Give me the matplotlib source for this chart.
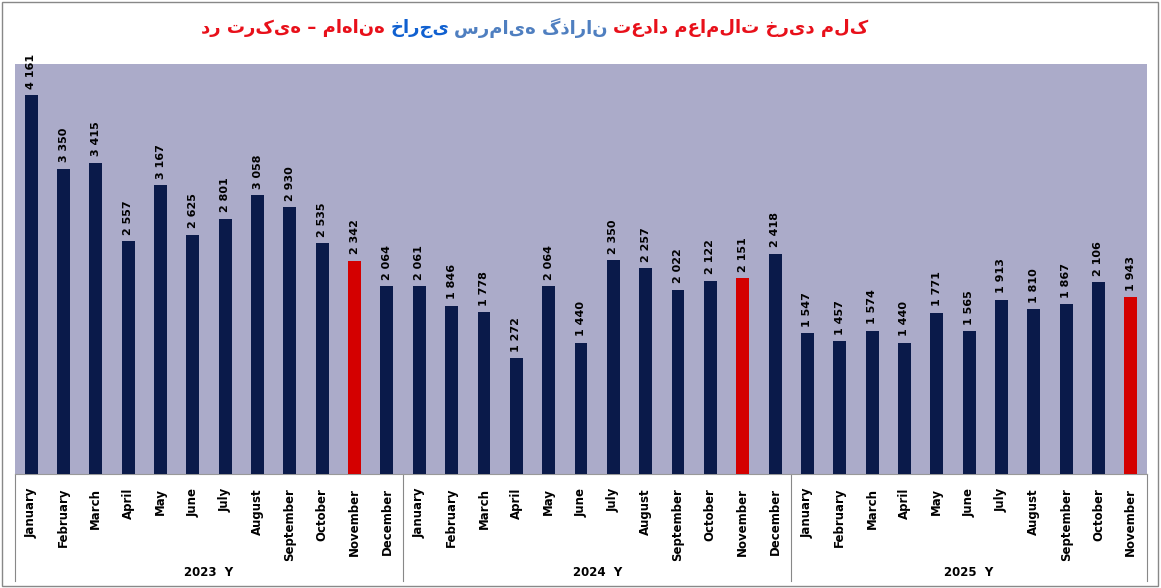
import matplotlib
matplotlib.use("Agg")
import matplotlib.pyplot as plt
from matplotlib.lines import Line2D

months = ["January","February","March","April","May","June","July","August",
          "September","October","November","December"]
years = ["2023  Y", "2024  Y", "2025  Y"]
v2023 = [4161,3350,3415,2557,3167,2625,2801,3058,2930,2535,2342,2064]
v2024 = [2061,1846,1778,1272,2064,1440,2350,2257,2022,2122,2151,2418]
v2025 = [1547,1457,1574,1440,1771,1565,1913,1810,1867,2106,1943]
highlight = "November"

labels = months + months + months[:11]
values = v2023 + v2024 + v2025
groups = [len(v2023), len(v2024), len(v2025)]

fig = plt.figure(figsize=(11.61, 5.88), dpi=100)
ax = fig.add_axes([15/1161, 1-474/588, 1132/1161, 410/588])
ax.set_facecolor("#ABABC9")
x = list(range(len(values)))
colors = ["#D40000" if l == highlight else "#0A1A4A" for l in labels]
ax.bar(x, values, width=0.4, color=colors, zorder=3)
for xi, v in zip(x, values):
    s = f"{v:,}".replace(",", " ")
    ax.text(xi, v + 70, s, rotation=90, ha="center", va="bottom",
            fontsize=8, fontweight="bold", color="black", zorder=4)
ax.set_xlim(-0.5, len(values) - 0.5)
ax.set_ylim(0, 4500)
ax.set_yticks([])
ax.set_xticks(x)
ax.set_xticklabels(labels, rotation=90, fontsize=8.5, fontweight="bold")
ax.tick_params(axis="x", length=0, pad=10)
for s in ["top", "right", "left"]:
    ax.spines[s].set_visible(False)
ax.spines["bottom"].set_color("#999999")

tr = ax.get_xaxis_transform()
start = -0.5
bounds = [start]
for g in groups:
    start += g
    bounds.append(start)
for b in bounds:
    ax.add_line(Line2D([b, b], [0, -0.26], transform=tr, color="#888888",
                       lw=0.8, clip_on=False))
for i, yl in enumerate(years):
    ax.text((bounds[i] + bounds[i+1]) / 2, -0.24, yl, transform=tr,
            ha="center", va="center", fontsize=8.5, fontweight="bold")

fig.patches.append(plt.Rectangle((0.002, 0.003), 0.995, 0.993, transform=fig.transFigure,
                                 fill=False, ec="#888888", lw=1))

parts = [("تعداد معاملات خرید ملک", "#E8101A"),
         ("سرمایه گذاران", "#4F7FC0"),
         ("خارجی", "#1060D0"),
         ("در ترکیه – ماهانه", "#E8101A")]
fig.canvas.draw()
r = fig.canvas.get_renderer()
xr = 868 / 1161
gap = 5 / 1161
for t, c in parts:
    tx = fig.text(xr, 1 - 28/588, t, ha="right", va="center", color=c,
                  fontsize=13, fontweight="bold", family=["DejaVu Sans"])
    bb = tx.get_window_extent(r)
    xr -= bb.width / fig.bbox.width + gap

fig.savefig("out.png", dpi=100)
